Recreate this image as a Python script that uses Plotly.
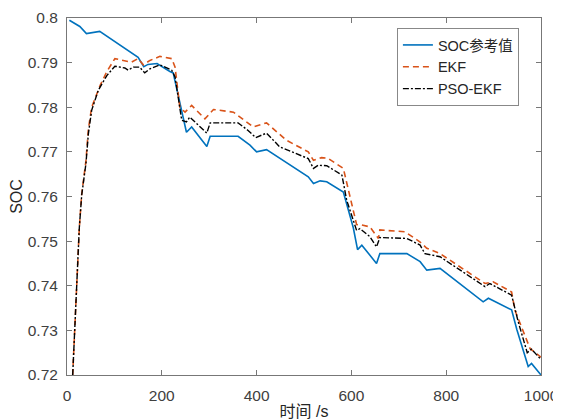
import plotly.graph_objects as go

# SOC reference
t_ref = [5, 27, 41, 63, 69, 150, 162, 171, 190, 217, 224, 252, 263, 295, 302, 361, 386, 400, 421,
         509, 520, 534, 548, 583, 604, 613, 622, 653, 660, 717, 745, 759, 787, 878, 889, 938, 949,
         973, 980, 1000]
soc_ref = [0.7995, 0.7981, 0.7965, 0.7970, 0.7970, 0.7912, 0.7891, 0.7896, 0.7898, 0.7880, 0.7877,
           0.7744, 0.7756, 0.7712, 0.7735, 0.7735, 0.7715, 0.7700, 0.7705,
           0.7644, 0.7629, 0.7635, 0.7633, 0.7610, 0.7530, 0.7481, 0.7491, 0.7450, 0.7472, 0.7472,
           0.7454, 0.7435, 0.7439, 0.7364, 0.7372, 0.7346, 0.7302,
           0.7219, 0.7226, 0.7200]

# EKF
t_ekf = [12, 17, 22, 26, 31, 40, 45, 52, 70, 84, 101, 122, 136, 150, 161, 175, 196, 221, 228,
         238, 249, 263, 291, 309, 351, 393, 421, 463, 509, 520, 537, 550, 583, 611, 622, 639, 657,
         660, 713, 745, 759, 787, 882, 899, 938, 945, 977, 1000]
soc_ekf = [0.7200, 0.7330, 0.7450, 0.7530, 0.7605, 0.7680, 0.7750, 0.7800, 0.7849, 0.7880, 0.7909,
           0.7905, 0.7901, 0.7909, 0.7895, 0.7905, 0.7914, 0.7909, 0.7890,
           0.7800, 0.7789, 0.7804, 0.7774, 0.7795, 0.7789, 0.7756, 0.7765, 0.7726, 0.7700, 0.7681,
           0.7687, 0.7686, 0.7663, 0.7537, 0.7536, 0.7532, 0.7506,
           0.7525, 0.7521, 0.7498, 0.7484, 0.7472, 0.7405, 0.7409, 0.7386, 0.7345, 0.7259, 0.7240]

# PSO-EKF
t_pso = [12, 17, 22, 26, 31, 40, 45, 52, 66, 84, 101, 122, 129, 140, 153, 164, 175, 196, 221, 228,
         242, 252, 259, 295, 302, 361, 382, 398, 421, 449, 509, 520, 530, 548, 580, 590, 611, 618,
         639, 653, 660, 717, 745, 755, 787, 882, 892, 938, 952, 971, 980, 998]
soc_pso = [0.7200, 0.7330, 0.7450, 0.7530, 0.7603, 0.7674, 0.7740, 0.7793, 0.7838, 0.7871, 0.7892,
           0.7888, 0.7883, 0.7890, 0.7890, 0.7877, 0.7886, 0.7895, 0.7883, 0.7868,
           0.7771, 0.7767, 0.7778, 0.7742, 0.7765, 0.7765, 0.7748, 0.7732, 0.7742, 0.7711, 0.7685,
           0.7663, 0.7670, 0.7669, 0.7648, 0.7592, 0.7524, 0.7528,
           0.7510, 0.7487, 0.7508, 0.7506, 0.7491, 0.7472, 0.7465, 0.7398, 0.7405, 0.7379, 0.7319,
           0.7250, 0.7258, 0.7237]

x_ticks = [0, 200, 400, 600, 800, 1000]
y_ticks = [0.72, 0.73, 0.74, 0.75, 0.76, 0.77, 0.78, 0.79, 0.8]
y_tick_labels = ["0.72", "0.73", "0.74", "0.75", "0.76", "0.77", "0.78", "0.79", "0.8"]

FONT = "Liberation Sans, Arial, Noto Sans CJK SC, sans-serif"

fig = go.Figure()
fig.add_trace(go.Scatter(x=t_ref, y=soc_ref, mode="lines", name="SOC参考值",
                         line=dict(color="#0072BD", width=1.6)))
fig.add_trace(go.Scatter(x=t_ekf, y=soc_ekf, mode="lines", name="EKF",
                         line=dict(color="#D95319", width=1.6, dash="6px,4px")))
fig.add_trace(go.Scatter(x=t_pso, y=soc_pso, mode="lines", name="PSO-EKF",
                         line=dict(color="#000000", width=1.4, dash="6px,2px,2px,2px")))

axis_common = dict(
    showline=True, linecolor="#777777", linewidth=1, mirror="ticks",
    ticks="inside", ticklen=5, tickcolor="#777777", tickwidth=1,
    showgrid=False, zeroline=False, automargin=False,
    tickfont=dict(family=FONT, size=15.5, color="#404040"),
)

# page body has an 8px default margin, so the figure is sized to fit the window
fig.update_layout(
    width=553, height=412,
    margin=dict(l=59, r=20, t=9.5, b=45),
    plot_bgcolor="white", paper_bgcolor="white",
    font=dict(family=FONT, size=15, color="#262626"),
    xaxis=dict(range=[0, 1000], tickvals=x_ticks, ticklabelstandoff=6,
               title=dict(text="时间 /s", font=dict(family=FONT, size=16, color="#262626"),
                          standoff=6),
               **axis_common),
    yaxis=dict(range=[0.72, 0.8], tickvals=y_ticks, ticktext=y_tick_labels,
               ticklabelstandoff=5,
               title=dict(text="SOC", font=dict(family=FONT, size=16, color="#262626"),
                          standoff=3),
               **axis_common),
    legend=dict(x=0.696, y=0.972, xanchor="left", yanchor="top",
                bordercolor="#888888", borderwidth=1, bgcolor="white",
                font=dict(family=FONT, size=14.5, color="#262626"),
                tracegroupgap=0),
    showlegend=True,
)

fig.write_html("out.html")
